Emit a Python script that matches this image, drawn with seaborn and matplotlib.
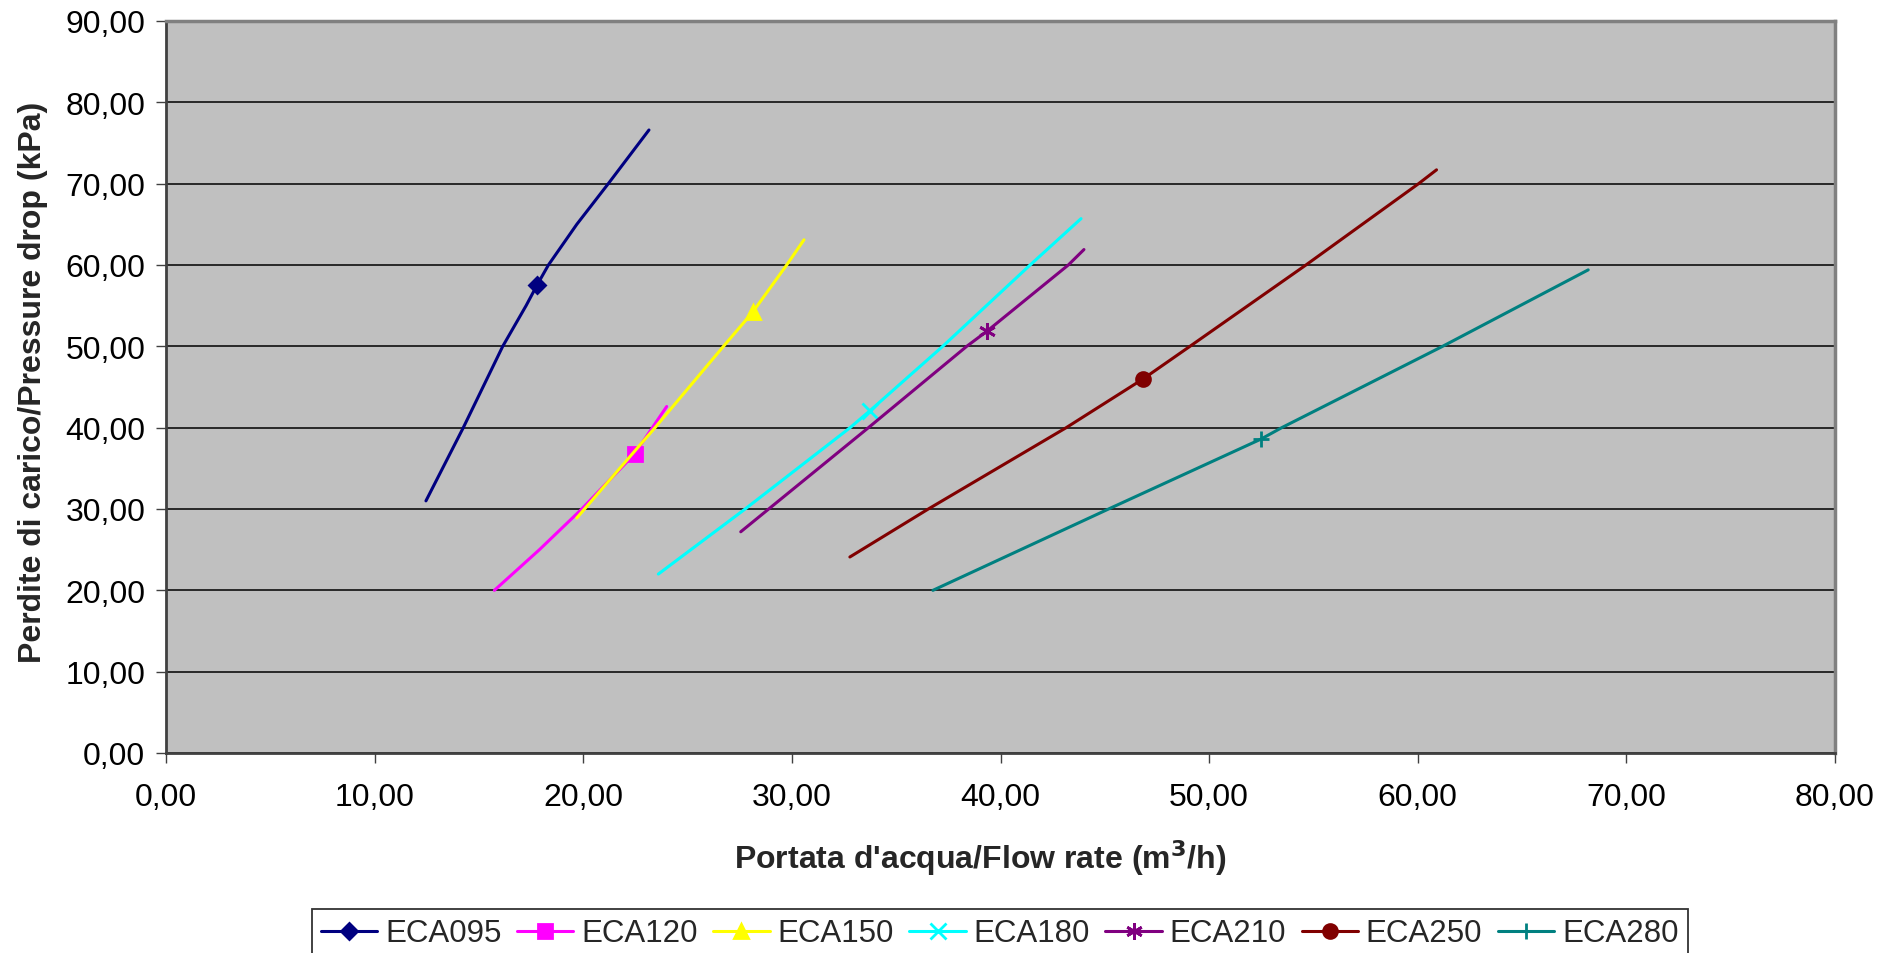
import matplotlib
matplotlib.use("Agg")
import matplotlib.pyplot as plt
from matplotlib.ticker import FuncFormatter, MultipleLocator
import seaborn as sns

# === Data (flow rate m3/h, pressure drop kPa) ===
ECA095_X = [12.46, 14.25, 16.14, 17.26, 17.80, 18.33, 19.69, 21.20, 23.15]
ECA095_Y = [31.0, 40.0, 50.0, 55.0, 57.6, 60.0, 65.0, 70.0, 76.6]

ECA120_X = [15.74, 17.90, 19.93, 22.47, 24.00]
ECA120_Y = [20.0, 25.0, 30.0, 36.8, 42.6]

ECA150_X = [19.69, 23.44, 26.72, 28.12, 29.75, 30.58]
ECA150_Y = [28.9, 40.0, 50.0, 54.2, 60.0, 63.1]

ECA180_X = [23.60, 27.76, 32.79, 33.75, 37.23, 41.42, 43.86]
ECA180_Y = [22.0, 30.0, 40.0, 42.1, 50.0, 60.0, 65.7]

ECA210_X = [27.55, 33.67, 38.38, 39.37, 43.25, 44.00]
ECA210_Y = [27.2, 40.0, 50.0, 51.9, 60.0, 61.9]

ECA250_X = [32.78, 36.54, 43.15, 46.84, 49.08, 54.64, 60.04, 60.90]
ECA250_Y = [24.1, 30.0, 40.0, 46.0, 50.0, 60.0, 70.0, 71.7]

ECA280_X = [36.76, 45.18, 52.49, 53.48, 61.19, 68.17]
ECA280_Y = [20.0, 30.0, 38.6, 40.0, 50.0, 59.4]

MODELS = ["ECA095", "ECA120", "ECA150", "ECA180", "ECA210", "ECA250", "ECA280"]
SERIES_X = [ECA095_X, ECA120_X, ECA150_X, ECA180_X, ECA210_X, ECA250_X, ECA280_X]
SERIES_Y = [ECA095_Y, ECA120_Y, ECA150_Y, ECA180_Y, ECA210_Y, ECA250_Y, ECA280_Y]
# index of the nominal point that carries the marker
MARK_AT = [4, 3, 3, 3, 3, 3, 2]

COLORS = ["#000080", "#FF00FF", "#FFFF00", "#00FFFF", "#800080", "#800000", "#008080"]
MARKERS = ["D", "s", "^", "x", (6, 2, 0), "o", "+"]
MSIZES = [8, 10, 10, 11, 12, 10, 12]

# === Style ===
sns.set_style("white")
plt.rcParams["font.family"] = ["Liberation Sans", "DejaVu Sans"]

fig = plt.figure(figsize=(18.97, 9.54), dpi=100)
ax = fig.add_axes([166 / 1897, 1 - 754 / 954, 1669 / 1897, 732 / 954])
ax.set_facecolor("#C0C0C0")

for name, xs, ys, col, mk, ms, mi in zip(MODELS, SERIES_X, SERIES_Y, COLORS, MARKERS, MSIZES, MARK_AT):
    sns.lineplot(x=xs, y=ys, ax=ax, color=col, linewidth=2.2, marker=mk,
                 markersize=ms, markevery=[mi], markeredgewidth=2,
                 markeredgecolor=col, label=name, sort=False)

ax.set_xlim(0, 80)
ax.set_ylim(0, 90)
ax.xaxis.set_major_locator(MultipleLocator(10))
ax.yaxis.set_major_locator(MultipleLocator(10))
fmt = FuncFormatter(lambda v, p: f"{v:.2f}".replace(".", ","))
ax.xaxis.set_major_formatter(fmt)
ax.yaxis.set_major_formatter(fmt)

ax.grid(axis="y", color="black", linewidth=1.1)
ax.grid(axis="x", visible=False)
ax.set_axisbelow(True)

for side in ["top", "right"]:
    ax.spines[side].set_color("#808080")
    ax.spines[side].set_linewidth(2.5)
for side in ["left", "bottom"]:
    ax.spines[side].set_color("#404040")
    ax.spines[side].set_linewidth(2)

ax.tick_params(axis="both", direction="out", length=7, width=1, color="#404040",
               labelsize=23, colors="black")
ax.tick_params(axis="y", pad=8, left=True)
ax.tick_params(axis="x", pad=14, bottom=True)

ax.set_xlabel(r"Portata d'acqua/Flow rate (m$^\mathbf{3}$/h)", fontsize=23, fontweight="bold")
ax.set_ylabel("Perdite di carico/Pressure drop (kPa)", fontsize=23, fontweight="bold")
ax.xaxis.set_label_coords(0.488, -0.115)
ax.yaxis.set_label_coords(-0.071, 0.508)

ax.get_legend().remove()
handles, labels = ax.get_legend_handles_labels()
leg = fig.legend(handles, labels, loc="upper center", bbox_to_anchor=(0.527, 0.046),
                 ncol=7, fontsize=22.5, frameon=True, fancybox=False, edgecolor="black",
                 handlelength=1.8, handletextpad=0.25, columnspacing=0.5,
                 borderpad=0.3, borderaxespad=0)
leg.get_frame().set_linewidth(1.3)

fig.savefig("out.png", dpi=100)
